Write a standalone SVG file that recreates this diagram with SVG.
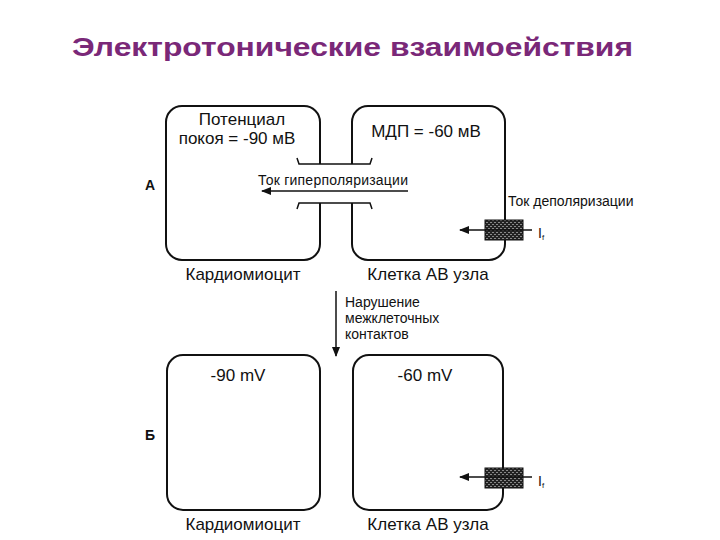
<svg xmlns="http://www.w3.org/2000/svg" width="720" height="540" viewBox="0 0 720 540">
<defs>
<marker id="ah" markerWidth="10" markerHeight="8" refX="9" refY="4" orient="auto" markerUnits="userSpaceOnUse"><path d="M0,0 L10,4 L0,8 Z" fill="#111"/></marker>
<pattern id="hatch" width="4" height="4" patternUnits="userSpaceOnUse"><rect width="4" height="4" fill="#222"/><rect x="0" y="0" width="2" height="1" fill="#888"/><rect x="2" y="2" width="2" height="1" fill="#888"/></pattern>
</defs>
<style>
.cell{fill:#fff;stroke:#111;stroke-width:2}
.t{font-family:"Liberation Sans",Arial,sans-serif;font-size:17px;fill:#111}
.s{font-family:"Liberation Sans",Arial,sans-serif;font-size:14px;fill:#111}
.ln{stroke:#111;stroke-width:1.5;fill:none}
</style>
<rect width="720" height="540" fill="#fff"/>
<text x="72" y="56" font-family="Liberation Sans,Arial,sans-serif" font-size="26" font-weight="bold" fill="#7a2878" textLength="561" lengthAdjust="spacingAndGlyphs">Электротонические взаимоействия</text>
<text x="145" y="190" class="s" font-weight="bold">А</text>
<text x="145" y="440" class="s" font-weight="bold">Б</text>
<g id="cardio-a"><rect class="cell" x="166" y="106" width="154" height="154" rx="16"/>
<text x="242" y="125" class="t" text-anchor="middle">Потенциал</text><text x="237" y="144" class="t" text-anchor="middle">покоя = -90 мВ</text>
<text x="243" y="280" class="t" text-anchor="middle">Кардиомиоцит</text></g>
<g id="av-a"><rect class="cell" x="352" y="106" width="153" height="154" rx="16"/>
<text x="426" y="137" class="t" text-anchor="middle">МДП = -60 мВ</text>
<text x="428" y="280" class="t" text-anchor="middle">Клетка АВ узла</text></g>
<g id="gap"><rect x="318" y="164" width="36" height="39" fill="#fff"/>
<path class="ln" d="M297,158 L299,164 L370,164 L372,158"/>
<path class="ln" d="M297,209 L299,203 L370,203 L372,209"/>
<text x="258" y="185" class="s" textLength="150">Ток гиперполяризации</text></g>
<g id="resistor-a"><rect x="485" y="220" width="38" height="20" fill="url(#hatch)" stroke="#111"/>
<text x="508" y="206" class="s">Ток деполяризации</text>
<text x="538" y="238" class="s">I<tspan font-size="8" dy="2">f</tspan></text></g>
<g id="cardio-b"><rect class="cell" x="167" y="355" width="153" height="155" rx="16"/>
<text x="238" y="381" class="t" text-anchor="middle">-90 mV</text>
<text x="243" y="530" class="t" text-anchor="middle">Кардиомиоцит</text></g>
<g id="av-b"><rect class="cell" x="353" y="355" width="150" height="155" rx="16"/>
<text x="425" y="381" class="t" text-anchor="middle">-60 mV</text>
<text x="428" y="530" class="t" text-anchor="middle">Клетка АВ узла</text></g>
<g id="resistor-b"><rect x="485" y="468" width="38" height="20" fill="url(#hatch)" stroke="#111"/>
<text x="538" y="486" class="s">I<tspan font-size="8" dy="2">f</tspan></text></g>
<g id="connectors">
<line class="ln" x1="408" y1="191" x2="262" y2="191" marker-end="url(#ah)"/>
<line class="ln" x1="532" y1="230" x2="460" y2="230" marker-end="url(#ah)"/>
<line class="ln" x1="532" y1="477" x2="460" y2="477" marker-end="url(#ah)"/>
<line class="ln" x1="336" y1="291" x2="336" y2="356" marker-end="url(#ah)"/>
<text x="345" y="307" class="s">Нарушение</text>
<text x="345" y="323" class="s">межклеточных</text>
<text x="345" y="339" class="s">контактов</text>
</g>
</svg>
